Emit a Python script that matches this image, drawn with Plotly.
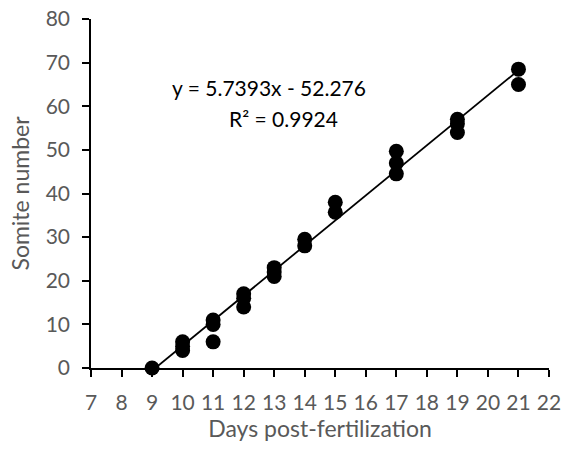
import plotly.graph_objects as go

days = [9, 10, 10, 10, 11, 11, 11, 12, 12, 12, 13, 13, 13, 14, 14, 15, 15,
        17, 17, 17, 19, 19, 19, 21, 21]
somites = [0, 4, 5, 6, 6, 10, 11, 14, 16, 17, 21, 22, 23, 28, 29.5, 35.7, 38,
           44.5, 47, 49.7, 54, 56, 57, 65, 68.5]

slope = 5.7393
intercept = -52.276
r_squared = 0.9924
trend_x = [9, 21]
trend_y = [slope * x + intercept for x in trend_x]

x_ticks = list(range(7, 23))
y_ticks = list(range(0, 81, 10))

FONT = "Lato"
GREY = "#595959"

W, H = 567, 459
L, T, R, B = 91, 19, 18, 91
pw, ph = W - L - R, H - T - B


def px_to_paper(x, y):
    return (x - L) / pw, 1 - (y - T) / ph


fig = go.Figure()
fig.add_trace(go.Scatter(x=trend_x, y=trend_y, mode="lines",
                         line=dict(color="black", width=1.8),
                         showlegend=False, hoverinfo="skip", cliponaxis=False))
fig.add_trace(go.Scatter(x=days, y=somites, mode="markers",
                         marker=dict(color="black", size=15, line=dict(width=0)),
                         showlegend=False, cliponaxis=False))

ax, ay = px_to_paper(269, 73)
fig.add_annotation(x=ax, y=ay, xref="paper", yref="paper",
                   text=f"y = {slope}x - {-intercept}", showarrow=False,
                   font=dict(family=FONT, size=21, color="black"))
ax, ay = px_to_paper(283, 104)
fig.add_annotation(x=ax, y=ay, xref="paper", yref="paper",
                   text=f"R² = {r_squared}", showarrow=False,
                   font=dict(family=FONT, size=21, color="black"))

fig.update_layout(
    width=W, height=H,
    margin=dict(l=L, r=R, t=T, b=B),
    paper_bgcolor="white", plot_bgcolor="white",
    font=dict(family=FONT, size=21, color=GREY),
    xaxis=dict(range=[7, 22], tickvals=x_ticks, ticktext=[str(t) for t in x_ticks],
               showgrid=False, zeroline=False, showline=True, linecolor="black",
               linewidth=1.5, ticks="outside", ticklen=7, tickcolor="black",
               tickwidth=1.5, ticklabelstandoff=8, automargin="bottom",
               ticklabeloverflow="allow",
               title=dict(text="Days post-fertilization", standoff=4,
                          font=dict(family=FONT, size=23, color=GREY))),
    yaxis=dict(range=[0, 80], tickvals=y_ticks, showgrid=False, zeroline=False,
               showline=True, linecolor="black", linewidth=1.5, ticks="outside",
               ticklen=7, tickcolor="black", tickwidth=1.5, ticklabelstandoff=8,
               automargin="left", ticklabeloverflow="allow",
               title=dict(text="Somite number", standoff=10,
                          font=dict(family=FONT, size=23, color=GREY))),
)

# remove the page's default 8px body margin so the figure fills the window
fig.write_html("out.html", config={"displayModeBar": False},
               post_script="document.body.style.margin='0';")
